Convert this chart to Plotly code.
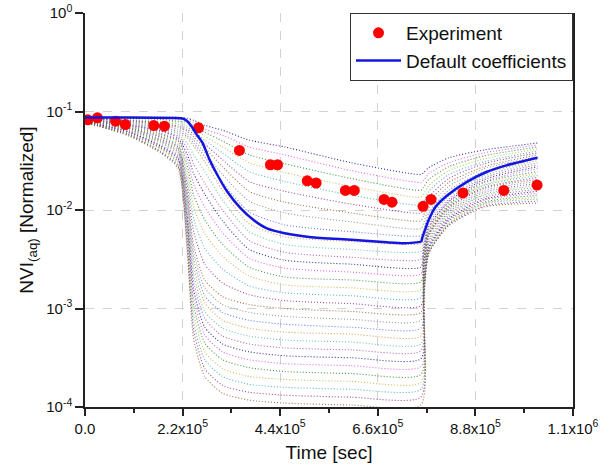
import numpy as np
import plotly.graph_objects as go

# -------------------------------
# Data
# -------------------------------

# Experiment points (time in sec, normalized NVI)
exp_t = [6.1e3, 2.8e4, 6.9e4, 9.1e4, 1.55e5, 1.79e5, 2.56e5, 3.48e5, 4.18e5, 4.34e5,
         5.01e5, 5.21e5, 5.87e5, 6.07e5, 6.74e5, 6.92e5, 7.62e5, 7.80e5, 8.52e5, 9.44e5, 1.019e6]
exp_v = [0.0824, 0.0862, 0.0798, 0.0738, 0.0721, 0.0710, 0.0683, 0.0403, 0.0288, 0.0288,
         0.0198, 0.0188, 0.0158, 0.0158, 0.0128, 0.0120, 0.0109, 0.0128, 0.0149, 0.0158, 0.0179]

# Default coefficients run
def_t = [0, 1.0e5, 2.0e5, 2.2e5, 2.3e5, 2.4e5, 2.5e5, 2.65e5, 2.8e5, 3.0e5, 3.2e5, 3.5e5,
         3.8e5, 4.1e5, 4.5e5, 5.1e5, 6.0e5, 6.8e5, 7.2e5, 7.58e5, 7.6e5, 7.66e5, 7.73e5,
         7.9e5, 8.17e5, 8.6e5, 9.05e5, 9.5e5, 1.02e6]
def_v = [0.087, 0.087, 0.086, 0.085, 0.080, 0.071, 0.060, 0.048, 0.033, 0.022, 0.0155, 0.0105,
         0.0079, 0.0065, 0.0058, 0.0053, 0.0050, 0.0047, 0.0046, 0.0048, 0.0052, 0.0062, 0.0076,
         0.0107, 0.0141, 0.0192, 0.0243, 0.0284, 0.0339]

# Sampled-coefficient runs: log10(NVI) at common time knots, one row per run
ens_t = [0, 1.0e5, 1.7e5, 2.1e5, 2.3e5, 2.45e5, 2.7e5, 3.1e5, 3.7e5, 4.5e5, 6.0e5,
         7.57e5, 7.63e5, 7.75e5, 8.2e5, 9.0e5, 1.02e6]
ens_log = [
    [-1.06, -1.06, -1.06, -1.06, -1.07, -1.09, -1.14, -1.19, -1.29, -1.36, -1.52, -1.64, -1.62, -1.57, -1.47, -1.39, -1.32],
    [-1.06, -1.07, -1.07, -1.08, -1.09, -1.11, -1.18, -1.24, -1.36, -1.44, -1.60, -1.72, -1.70, -1.63, -1.52, -1.42, -1.34],
    [-1.06, -1.07, -1.08, -1.10, -1.11, -1.14, -1.21, -1.30, -1.44, -1.53, -1.68, -1.80, -1.77, -1.69, -1.56, -1.45, -1.36],
    [-1.07, -1.08, -1.10, -1.11, -1.14, -1.17, -1.25, -1.36, -1.52, -1.62, -1.76, -1.87, -1.84, -1.75, -1.60, -1.48, -1.38],
    [-1.07, -1.09, -1.11, -1.13, -1.16, -1.20, -1.29, -1.42, -1.61, -1.71, -1.85, -1.95, -1.92, -1.81, -1.64, -1.51, -1.40],
    [-1.07, -1.09, -1.12, -1.15, -1.18, -1.23, -1.33, -1.49, -1.71, -1.81, -1.94, -2.03, -1.99, -1.87, -1.68, -1.53, -1.42],
    [-1.07, -1.10, -1.13, -1.16, -1.20, -1.26, -1.37, -1.56, -1.81, -1.92, -2.03, -2.11, -2.06, -1.92, -1.72, -1.56, -1.44],
    [-1.07, -1.10, -1.14, -1.18, -1.23, -1.29, -1.42, -1.64, -1.91, -2.03, -2.12, -2.19, -2.14, -1.98, -1.76, -1.58, -1.46],
    [-1.07, -1.11, -1.16, -1.20, -1.25, -1.32, -1.46, -1.72, -2.02, -2.15, -2.22, -2.26, -2.21, -2.03, -1.80, -1.61, -1.48],
    [-1.08, -1.12, -1.17, -1.22, -1.27, -1.35, -1.51, -1.80, -2.14, -2.27, -2.32, -2.34, -2.28, -2.08, -1.84, -1.63, -1.50],
    [-1.08, -1.12, -1.18, -1.23, -1.32, -1.44, -1.61, -1.90, -2.22, -2.35, -2.40, -2.42, -2.33, -2.11, -1.86, -1.65, -1.52],
    [-1.08, -1.13, -1.19, -1.25, -1.37, -1.53, -1.73, -2.00, -2.31, -2.43, -2.48, -2.50, -2.38, -2.14, -1.89, -1.67, -1.54],
    [-1.08, -1.14, -1.20, -1.27, -1.43, -1.63, -1.84, -2.11, -2.40, -2.51, -2.55, -2.58, -2.42, -2.17, -1.91, -1.69, -1.56],
    [-1.08, -1.14, -1.22, -1.29, -1.48, -1.74, -1.97, -2.23, -2.49, -2.59, -2.63, -2.65, -2.46, -2.19, -1.92, -1.71, -1.58],
    [-1.08, -1.15, -1.23, -1.30, -1.54, -1.85, -2.10, -2.35, -2.58, -2.68, -2.71, -2.73, -2.49, -2.21, -1.94, -1.72, -1.61],
    [-1.09, -1.16, -1.24, -1.32, -1.60, -1.97, -2.24, -2.47, -2.67, -2.76, -2.79, -2.81, -2.52, -2.23, -1.95, -1.74, -1.63],
    [-1.09, -1.16, -1.25, -1.34, -1.67, -2.09, -2.39, -2.60, -2.77, -2.84, -2.87, -2.89, -2.55, -2.24, -1.96, -1.75, -1.65],
    [-1.09, -1.17, -1.26, -1.36, -1.74, -2.22, -2.55, -2.74, -2.86, -2.92, -2.95, -2.97, -2.58, -2.25, -1.97, -1.77, -1.67],
    [-1.09, -1.17, -1.28, -1.37, -1.81, -2.36, -2.71, -2.88, -2.96, -3.00, -3.03, -3.04, -2.60, -2.25, -1.98, -1.78, -1.69],
    [-1.09, -1.18, -1.29, -1.39, -1.85, -2.43, -2.79, -2.96, -3.04, -3.08, -3.11, -3.12, -2.64, -2.27, -2.00, -1.80, -1.71],
    [-1.09, -1.19, -1.30, -1.41, -1.90, -2.50, -2.87, -3.04, -3.12, -3.16, -3.19, -3.20, -2.68, -2.30, -2.02, -1.82, -1.73],
    [-1.10, -1.19, -1.31, -1.42, -1.94, -2.58, -2.94, -3.12, -3.20, -3.24, -3.26, -3.28, -2.72, -2.32, -2.04, -1.84, -1.75],
    [-1.10, -1.20, -1.32, -1.44, -1.99, -2.65, -3.03, -3.20, -3.28, -3.32, -3.34, -3.36, -2.75, -2.34, -2.05, -1.85, -1.77],
    [-1.10, -1.21, -1.34, -1.46, -2.04, -2.73, -3.10, -3.28, -3.36, -3.40, -3.42, -3.43, -2.79, -2.36, -2.07, -1.87, -1.79],
    [-1.10, -1.21, -1.35, -1.48, -2.09, -2.81, -3.19, -3.36, -3.44, -3.48, -3.50, -3.51, -2.82, -2.38, -2.09, -1.89, -1.81],
    [-1.10, -1.22, -1.36, -1.49, -2.14, -2.89, -3.27, -3.44, -3.52, -3.56, -3.58, -3.59, -2.85, -2.39, -2.10, -1.90, -1.83],
    [-1.10, -1.23, -1.37, -1.51, -2.19, -2.97, -3.35, -3.52, -3.60, -3.64, -3.66, -3.67, -2.89, -2.40, -2.11, -1.92, -1.85],
    [-1.11, -1.23, -1.38, -1.53, -2.24, -3.05, -3.44, -3.61, -3.69, -3.72, -3.74, -3.75, -2.92, -2.42, -2.13, -1.93, -1.87],
    [-1.11, -1.24, -1.40, -1.55, -2.29, -3.14, -3.52, -3.69, -3.77, -3.80, -3.82, -3.82, -2.94, -2.43, -2.14, -1.94, -1.89],
    [-1.11, -1.24, -1.41, -1.56, -2.34, -3.22, -3.61, -3.78, -3.85, -3.88, -3.90, -3.90, -2.97, -2.44, -2.15, -1.96, -1.91],
    [-1.11, -1.25, -1.42, -1.58, -2.40, -3.31, -3.69, -3.86, -3.93, -3.96, -3.98, -3.98, -3.00, -2.44, -2.16, -1.97, -1.93],
]

# tick labels
x_ticks = [0, 2.2e5, 4.4e5, 6.6e5, 8.8e5, 1.1e6]
x_labels = ["0.0", "2.2x10<sup>5</sup>", "4.4x10<sup>5</sup>", "6.6x10<sup>5</sup>",
            "8.8x10<sup>5</sup>", "1.1x10<sup>6</sup>"]
x_minor = [1.1e5, 3.3e5, 5.5e5, 7.7e5, 9.9e5]
y_ticks = [1e-4, 1e-3, 1e-2, 1e-1, 1]
y_labels = ["10<sup>-4</sup>", "10<sup>-3</sup>", "10<sup>-2</sup>", "10<sup>-1</sup>", "10<sup>0</sup>"]

ens_colors = ["#000080", "#E040E0", "#208020", "#B8B030", "#30A8B0", "#802080",
              "#905020", "#808080", "#4060E0", "#C09030", "#50B890", "#A040A0"]

FONT = "Arial, Liberation Sans, sans-serif"

# -------------------------------
# Build the figure
# -------------------------------
fig = go.Figure()

for i, row in enumerate(ens_log):
    fig.add_trace(go.Scatter(
        x=ens_t, y=np.power(10.0, row), mode="lines",
        line=dict(color=ens_colors[i % len(ens_colors)], width=1.1, dash="1px,2px",
                  shape="spline", smoothing=0.6),
        opacity=0.8, showlegend=False, hoverinfo="skip"))

fig.add_trace(go.Scatter(
    x=exp_t, y=exp_v, mode="markers", name="Experiment",
    marker=dict(color="#FF0000", size=11)))

fig.add_trace(go.Scatter(
    x=def_t, y=def_v, mode="lines", name="Default coefficients",
    line=dict(color="#1515E0", width=2.5, shape="spline", smoothing=0.5)))

axis_line = dict(showline=True, linecolor="#222", linewidth=1.5)

fig.update_layout(
    width=611, height=474,
    margin=dict(l=85, r=38, t=13, b=67),
    paper_bgcolor="white", plot_bgcolor="white",
    font=dict(family=FONT, size=15, color="#111"),
    xaxis=dict(range=[0, 1.1e6], tickmode="array", tickvals=x_ticks, ticktext=x_labels,
               ticks="outside", ticklen=7, tickwidth=1.5, tickcolor="#222",
               minor=dict(tickmode="array", tickvals=x_minor, ticks="outside", ticklen=4,
                          tickwidth=1.5, tickcolor="#222", showgrid=False),
               showgrid=True, gridcolor="#d2d2d2", griddash="dash", gridwidth=1,
               zeroline=False, mirror=False, automargin=False, ticklabeloverflow="allow",
               title=dict(text="Time [sec]", font=dict(size=19), standoff=10),
               **axis_line),
    yaxis=dict(type="log", range=[-4, 0], tickmode="array", tickvals=y_ticks, ticktext=y_labels,
               ticks="outside", ticklen=8, tickwidth=1.5, tickcolor="#222",
               showgrid=True, gridcolor="#d2d2d2", griddash="dash", gridwidth=1,
               zeroline=False, mirror=True, automargin=False, ticklabeloverflow="allow",
               title=dict(text="NVI<sub>(aq)</sub> [Normalized]", font=dict(size=19), standoff=8),
               **axis_line),
    # duplicated axes only to draw the inner half of the crossing major ticks
    xaxis2=dict(overlaying="x", anchor="y", side="bottom", range=[0, 1.1e6], automargin=False,
                tickmode="array", tickvals=x_ticks, ticks="inside", ticklen=5, tickwidth=1.5,
                tickcolor="#222", showticklabels=False, showgrid=False, zeroline=False, showline=False),
    yaxis2=dict(overlaying="y", anchor="x", side="left", type="log", range=[-4, 0], automargin=False,
                tickmode="array", tickvals=y_ticks, ticks="inside", ticklen=7, tickwidth=1.5,
                tickcolor="#222", showticklabels=False, showgrid=False, zeroline=False, showline=False),
    legend=dict(x=1, y=1, xanchor="right", yanchor="top", bgcolor="white",
                bordercolor="#333", borderwidth=1, font=dict(size=19, color="#111"),
                itemwidth=45, tracegroupgap=0),
)

# drop the default 8px page margin so the figure fills the window exactly
fig.write_html("out.html", config={"displayModeBar": False},
               post_script="document.body.style.margin='0';")
